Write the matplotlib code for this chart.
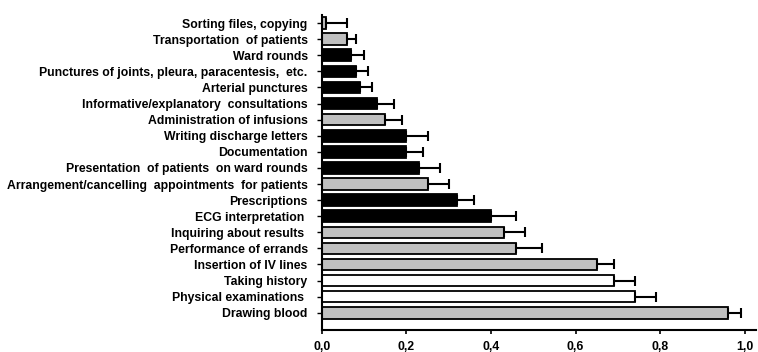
import matplotlib

matplotlib.use("Agg")
import matplotlib.pyplot as plt
from matplotlib.ticker import FuncFormatter

# categories from top to bottom, as in the picture
tasks = [
    "Sorting files, copying",
    "Transportation  of patients",
    "Ward rounds",
    "Punctures of joints, pleura, paracentesis,  etc.",
    "Arterial punctures",
    "Informative/explanatory  consultations",
    "Administration of infusions",
    "Writing discharge letters",
    "Documentation",
    "Presentation  of patients  on ward rounds",
    "Arrangement/cancelling  appointments  for patients",
    "Prescriptions",
    "ECG interpretation ",
    "Inquiring about results ",
    "Performance of errands",
    "Insertion of IV lines",
    "Taking history",
    "Physical examinations ",
    "Drawing blood",
]
means = [0.01, 0.06, 0.07, 0.08, 0.09, 0.13, 0.15, 0.20, 0.20, 0.23,
         0.25, 0.32, 0.40, 0.43, 0.46, 0.65, 0.69, 0.74, 0.96]
upper = [0.06, 0.08, 0.10, 0.11, 0.12, 0.17, 0.19, 0.25, 0.24, 0.28,
         0.30, 0.36, 0.46, 0.48, 0.52, 0.69, 0.74, 0.79, 0.99]
groups = ["g", "g", "b", "b", "b", "b", "g", "b", "b", "b",
          "g", "b", "b", "g", "g", "g", "w", "w", "g"]

colours = {"g": "#c0c0c0", "b": "#000000", "w": "#ffffff"}
font = ["Liberation Sans", "DejaVu Sans"]

n = len(tasks)
ypos = [n - 1 - i for i in range(n)]
errs = [u - m for u, m in zip(upper, means)]

fig = plt.figure(figsize=(7.58, 3.52), dpi=100)
ax = fig.add_axes([321.7 / 758, 22 / 352, (756 - 321.7) / 758, (337 - 22) / 352])

ax.barh(ypos, means, height=0.72, color=[colours[g] for g in groups],
        edgecolor="black", linewidth=1.3, zorder=2)
ax.errorbar(means, ypos, xerr=[[0] * n, errs], fmt="none", ecolor="black",
            elinewidth=1.5, capsize=3.6, capthick=1.5, zorder=3)

ax.set_xlim(0, 1.026)
ax.set_ylim(-1.07, n - 0.5)
ax.set_yticks(ypos)
ax.set_yticklabels(tasks, fontsize=8.8, fontweight="bold", family=font)
ax.set_xticks([0, 0.2, 0.4, 0.6, 0.8, 1.0])
ax.xaxis.set_major_formatter(FuncFormatter(lambda v, _: f"{v:.1f}".replace(".", ",")))
for lab in ax.get_xticklabels():
    lab.set_fontweight("bold")
    lab.set_fontsize(8.8)
    lab.set_family(font)

for s in ("top", "right"):
    ax.spines[s].set_visible(False)
for s in ("left", "bottom"):
    ax.spines[s].set_linewidth(1.5)
ax.tick_params(axis="y", direction="out", length=3.6, width=1, pad=6.5)
ax.tick_params(axis="x", direction="out", length=3, width=1.2, pad=5)

fig.savefig("out.png", dpi=100, facecolor="white")
